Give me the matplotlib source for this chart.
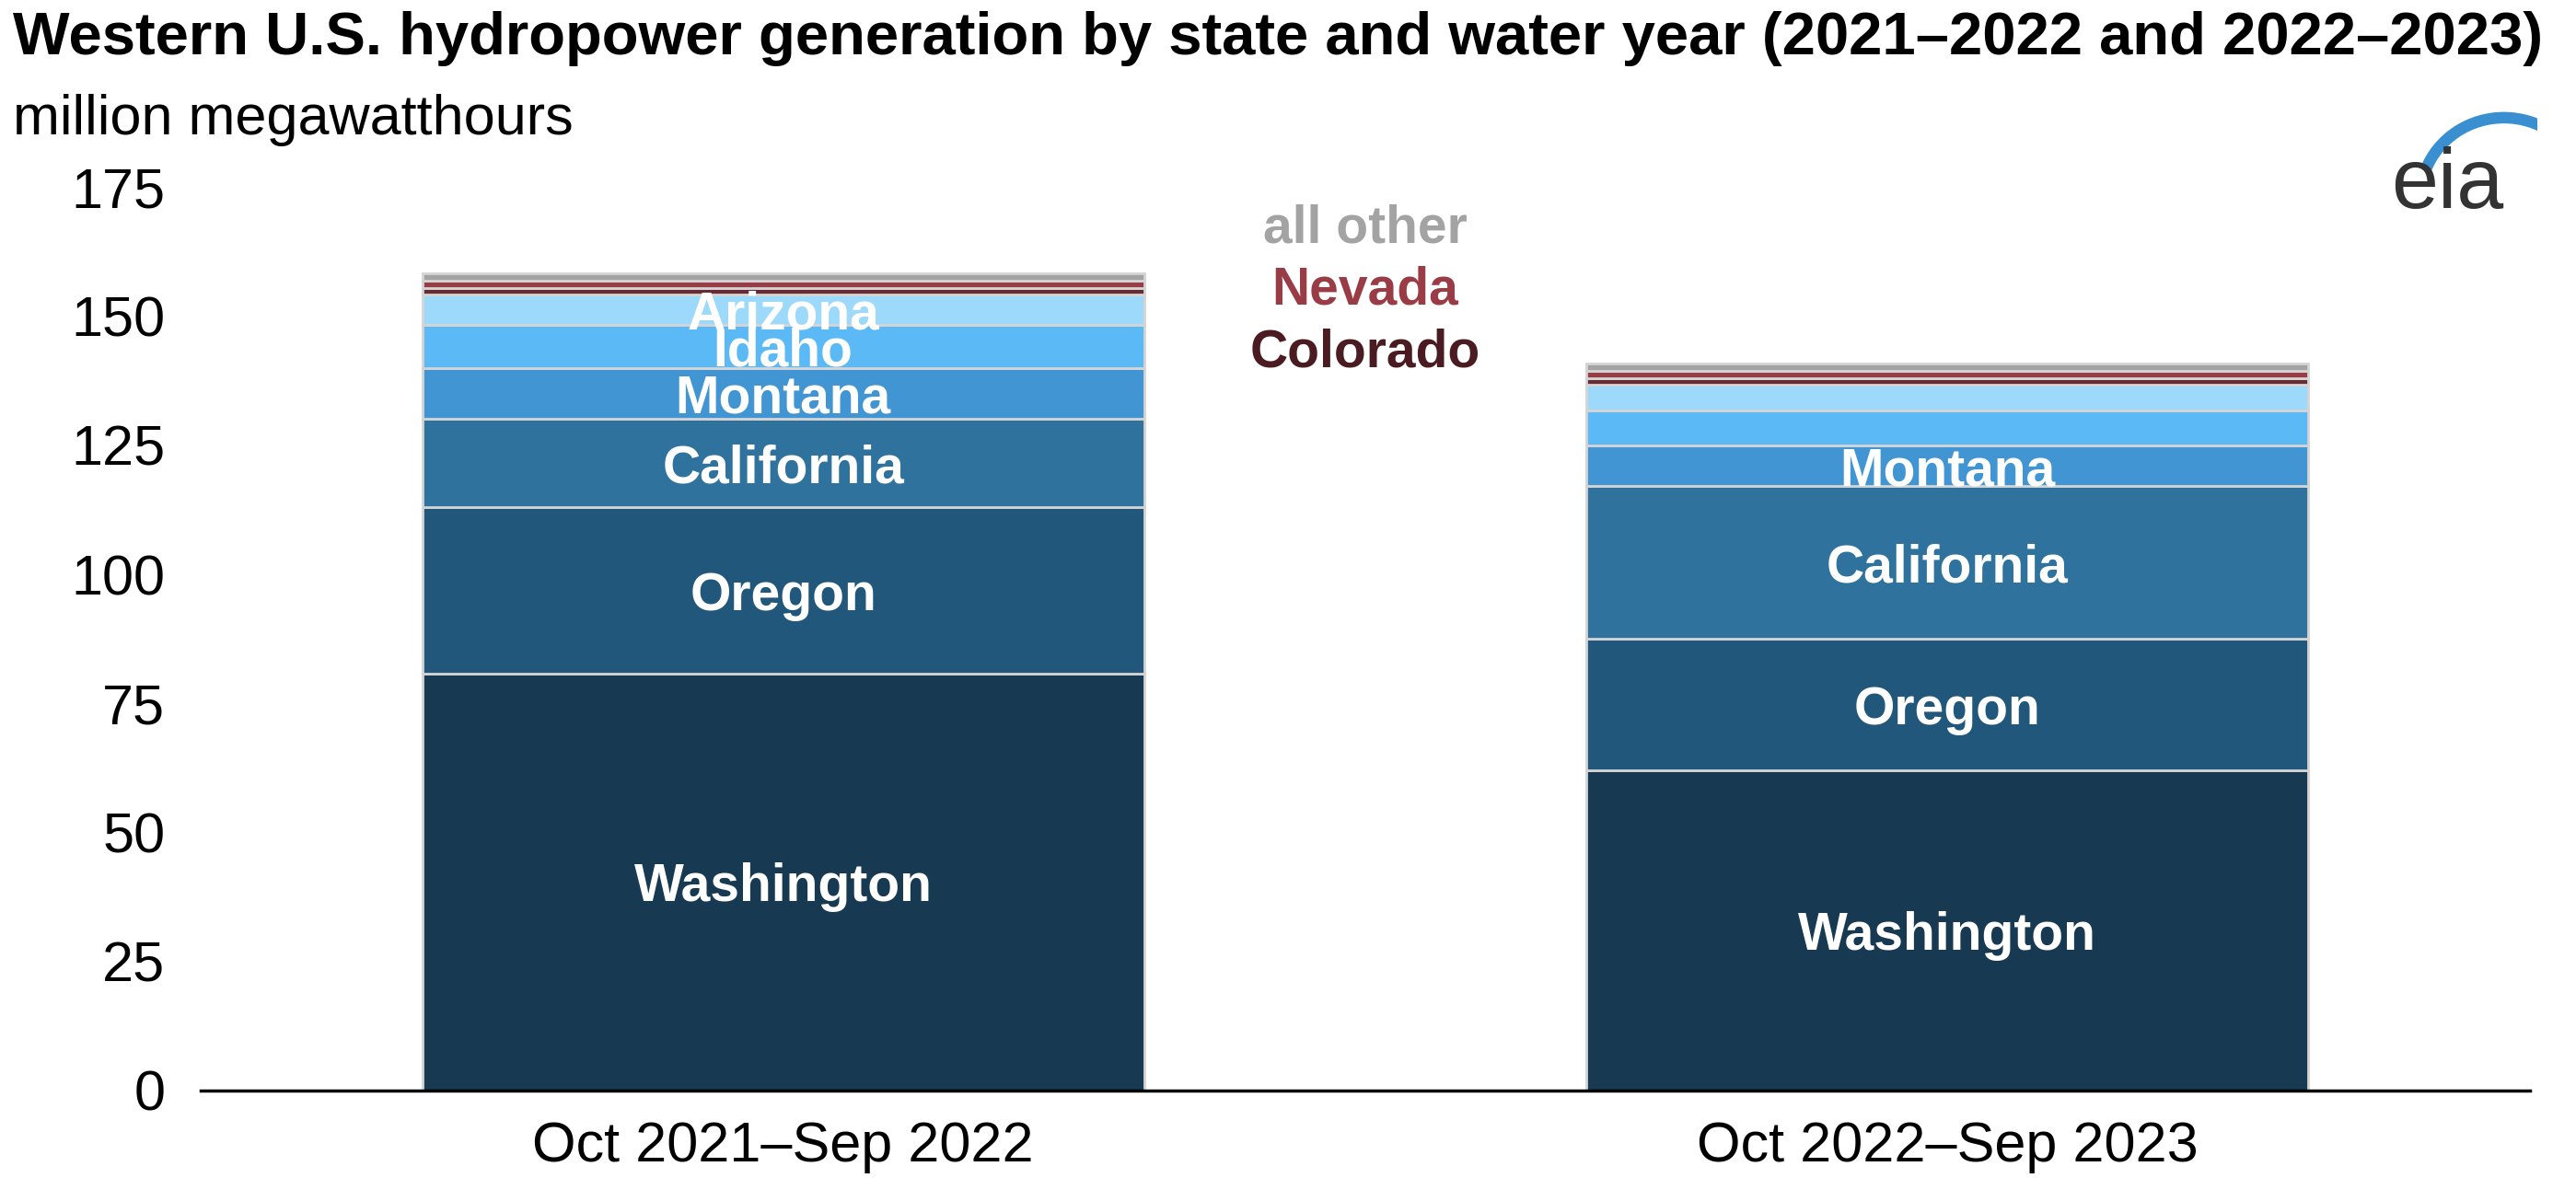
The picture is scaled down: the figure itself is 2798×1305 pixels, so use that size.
import matplotlib.pyplot as plt
import numpy as np
from matplotlib.patches import Arc

plt.rcParams['font.family'] = ['Liberation Sans', 'DejaVu Sans']

periods = ["Oct 2021\u2013Sep 2022", "Oct 2022\u2013Sep 2023"]
states = ["Washington", "Oregon", "California", "Montana", "Idaho", "Arizona",
          "Colorado", "Nevada", "all other"]
washington = [80.8, 62.0]
oregon = [32.2, 25.5]
california = [17.1, 29.6]
montana = [9.9, 7.9]
idaho = [8.3, 6.7]
arizona = [6.0, 5.1]
colorado = [1.2, 1.2]
nevada = [1.5, 1.5]
all_other = [1.3, 1.3]
series = [washington, oregon, california, montana, idaho, arizona, colorado, nevada, all_other]
colors = ["#173a52", "#21577a", "#2f729e", "#4095d2", "#5bb9f5", "#9dd9fa",
          "#6b2a32", "#9a3c45", "#a3a3a3"]
# which segments get an in-bar label, per bar
inbar = [["Washington", "Oregon", "California", "Montana", "Idaho", "Arizona"],
         ["Washington", "Oregon", "California", "Montana"]]

fig = plt.figure(figsize=(27.98, 13.05), dpi=100)
ax = fig.add_axes([0.078, 0.092, 0.904, 0.752])

x = np.arange(len(periods))
bottom = np.zeros(len(periods))
for name, vals, c in zip(states, series, colors):
    vals = np.array(vals)
    ax.bar(x, vals, 0.62, bottom=bottom, color=c, edgecolor="#d4d4d4", linewidth=2)
    for i in range(len(periods)):
        if name in inbar[i]:
            ax.text(x[i], bottom[i] + vals[i] / 2, name, ha="center", va="center_baseline",
                    color="white", fontsize=41, fontweight="bold")
    bottom += vals

ax.text(0.5, 167, "all other", ha="center", va="center", color="#a3a3a3", fontsize=41, fontweight="bold")
ax.text(0.5, 155, "Nevada", ha="center", va="center", color="#9a3c45", fontsize=41, fontweight="bold")
ax.text(0.5, 143, "Colorado", ha="center", va="center", color="#4a1c22", fontsize=41, fontweight="bold")

ax.set_xlim(-0.5, 1.5)
ax.set_ylim(0, 175)
ax.set_yticks(range(0, 176, 25))
ax.set_xticks(x)
ax.set_xticklabels(periods)
ax.tick_params(axis="both", length=0, labelsize=44)
ax.tick_params(axis="x", pad=24)
ax.tick_params(axis="y", pad=28)
for s in ["top", "right", "left"]:
    ax.spines[s].set_visible(False)
ax.spines["bottom"].set_linewidth(2.5)

fig.text(0.005, 0.968, "Western U.S. hydropower generation by state and water year (2021\u20132022 and 2022\u20132023)",
         fontsize=47, fontweight="bold", va="center")
fig.text(0.005, 0.9, "million megawatthours", fontsize=44, va="center")

# eia logo
fig.text(0.95, 0.845, "eia", fontsize=66, color="#333333", ha="center", va="center")
lax = fig.add_axes([0.92, 0.83, 0.065, 0.09])
lax.set_xlim(0, 1); lax.set_ylim(0, 1); lax.axis("off")
lax.add_patch(Arc((0.8, 0.05), 1.0, 1.5, theta1=30, theta2=150, color="#3a8fd0", linewidth=9))

fig.savefig("out.png", dpi=100)
